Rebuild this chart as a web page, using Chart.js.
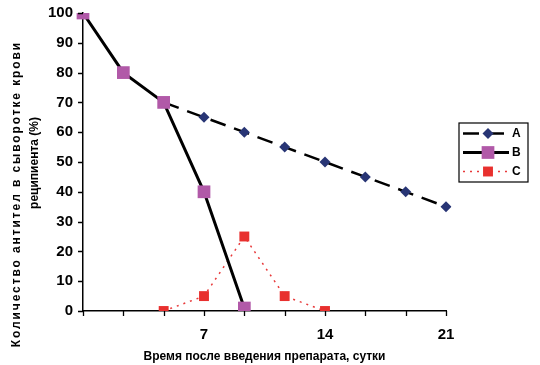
<!DOCTYPE html>
<html>
<head>
<meta charset="utf-8">
<script src="https://cdn.jsdelivr.net/npm/chart.js@4.4.0/dist/chart.umd.min.js"></script>
<style>
  html, body { margin: 0; padding: 0; background: #fff; }
  #wrap { width: 540px; height: 365px; position: relative; }
</style>
</head>
<body>
<div id="wrap"><canvas id="c"></canvas></div>
<script>
// Tick labels along the time axis (days); points sit on every tick
const dayLabels = ['', '', '', '7', '', '', '14', '', '', '21'];
const seriesNames = ['A', 'B', 'C'];
const valuesA = [null, null, 70, 65, 60, 55, 50, 45, 40, 35];
const valuesB = [100, 80, 70, 40, 1, null, null, null, null, null];
const valuesC = [null, null, 0, 5, 25, 5, 0, null, null, null];
const yTicks = [0, 10, 20, 30, 40, 50, 60, 70, 80, 90, 100];
const yTitleLines = ['Количество антител в сыворотке крови', 'реципиента (%)'];
const xTitle = 'Время после введения препарата, сутки';

const FONT = "'Liberation Sans', Arial, sans-serif";

const decorPlugin = {
  id: 'decor',
  afterDraw(chart) {
    const ctx = chart.ctx;
    const xs = chart.scales.x, ys = chart.scales.y;
    const area = chart.chartArea;
    ctx.save();
    // tick marks
    ctx.strokeStyle = '#000';
    ctx.lineWidth = 1.3;
    ctx.beginPath();
    for (let i = 0; i < dayLabels.length; i++) {
      const px = Math.round(xs.getPixelForValue(i)) + 0.5;
      ctx.moveTo(px, area.bottom);
      ctx.lineTo(px, area.bottom + 5);
    }
    yTicks.forEach(v => {
      const py = Math.round(ys.getPixelForValue(v)) + 0.5;
      ctx.moveTo(area.left, py);
      ctx.lineTo(area.left - 5, py);
    });
    ctx.stroke();

    // y title (two rotated lines)
    ctx.fillStyle = '#000';
    ctx.font = 'bold 12px ' + FONT;
    ctx.textAlign = 'center';
    ctx.textBaseline = 'middle';
    const drawRot = (text, x, y, spacing) => {
      ctx.save();
      ctx.translate(x, y);
      ctx.rotate(-Math.PI / 2);
      if ('letterSpacing' in ctx) ctx.letterSpacing = spacing + 'px';
      ctx.fillText(text, spacing / 2, 0);
      ctx.restore();
    };
    drawRot(yTitleLines[0], 17, 195, 1.9);
    drawRot(yTitleLines[1], 35, 163, 0);

    // legend box
    const bx = 459, by = 123, bw = 69, bh = 59;
    ctx.fillStyle = '#fff';
    ctx.fillRect(bx, by, bw, bh);
    ctx.strokeStyle = '#000';
    ctx.lineWidth = 1.2;
    ctx.strokeRect(bx, by, bw, bh);
    chart.data.datasets.forEach((ds, i) => {
      const y = by + 10.5 + i * 19;
      const x0 = bx + 4, x1 = bx + 50, xm = bx + 29;
      ctx.save();
      ctx.strokeStyle = ds.borderColor;
      ctx.lineWidth = ds.borderWidth;
      ctx.setLineDash(ds.borderDash || []);
      ctx.beginPath();
      ctx.moveTo(x0, y);
      ctx.lineTo(x1, y);
      ctx.stroke();
      ctx.restore();
      ctx.fillStyle = ds.pointBackgroundColor;
      ctx.beginPath();
      if (ds.pointStyle === 'rectRot') {
        const r = ds.pointRadius;
        ctx.moveTo(xm, y - r); ctx.lineTo(xm + r, y); ctx.lineTo(xm, y + r); ctx.lineTo(xm - r, y);
      } else {
        const s = ds.pointRadius * Math.SQRT1_2;
        ctx.rect(xm - s, y - s, 2 * s, 2 * s);
      }
      ctx.fill();
      ctx.fillStyle = '#000';
      ctx.font = 'bold 12px ' + FONT;
      ctx.textBaseline = 'middle';
      ctx.textAlign = 'left';
      ctx.fillText(ds.label, bx + 53, y + 0.5);
    });
    ctx.restore();
  }
};

new Chart(document.getElementById('c'), {
  type: 'line',
  data: {
    labels: dayLabels,
    datasets: [
      {
        label: seriesNames[0],
        data: valuesA,
        borderColor: '#000',
        borderWidth: 2.5,
        borderDash: [16, 9],
        pointStyle: 'rectRot',
        pointRadius: 5.5,
        pointBackgroundColor: '#283575',
        pointBorderColor: '#283575',
        pointBorderWidth: 0,
        fill: false,
        tension: 0,
        order: 1
      },
      {
        label: seriesNames[1],
        data: valuesB,
        borderColor: '#000',
        borderWidth: 3,
        pointStyle: 'rect',
        pointRadius: 9,
        pointBackgroundColor: '#b159a8',
        pointBorderColor: '#b159a8',
        pointBorderWidth: 0,
        fill: false,
        tension: 0,
        order: 0
      },
      {
        label: seriesNames[2],
        data: valuesC,
        borderColor: '#e8393a',
        borderWidth: 1.5,
        borderDash: [2, 5],
        pointStyle: 'rect',
        pointRadius: 7,
        pointBackgroundColor: '#e8302e',
        pointBorderColor: '#e8302e',
        pointBorderWidth: 0,
        fill: false,
        tension: 0,
        order: 2
      }
    ]
  },
  options: {
    responsive: true,
    maintainAspectRatio: false,
    animation: false,
    layout: { padding: { top: 0, right: 94, bottom: 0, left: 0 } },
    plugins: {
      legend: { display: false },
      tooltip: { enabled: false }
    },
    scales: {
      x: {
        type: 'category',
        offset: false,
        afterFit(scale) { scale.height = 54; },
        grid: { display: false },
        border: { display: true, color: '#000', width: 1.5 },
        ticks: {
          autoSkip: false, maxRotation: 0, color: '#000', padding: 7,
          font: { family: FONT, size: 15, weight: 'bold' }
        },
        title: {
          display: true,
          text: xTitle,
          color: '#000',
          font: { family: FONT, size: 12, weight: 'bold' },
          padding: { top: 0, bottom: 1 }
        }
      },
      y: {
        min: 0, max: 100,
        afterFit(scale) { scale.width = 83; },
        afterBuildTicks(scale) { scale.ticks = yTicks.map(v => ({ value: v })); },
        grid: { display: true, drawOnChartArea: false, drawTicks: true, tickLength: 6, color: 'rgba(0,0,0,0)' },
        border: { display: true, color: '#000', width: 1.5 },
        ticks: {
          color: '#000', padding: 4,
          font: { family: FONT, size: 15, weight: 'bold' }
        },
        title: { display: false }
      }
    }
  },
  plugins: [decorPlugin]
});
</script>
</body>
</html>
